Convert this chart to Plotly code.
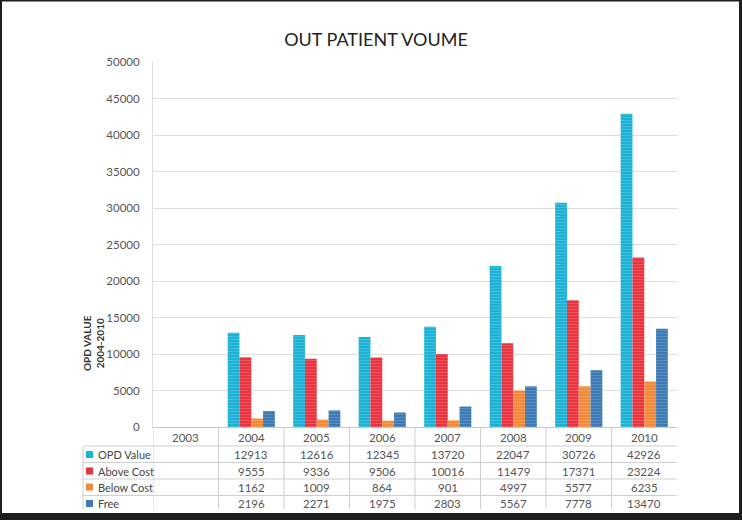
import plotly.graph_objects as go

years = ["2003", "2004", "2005", "2006", "2007", "2008", "2009", "2010"]
series_names = ["OPD Value", "Above Cost", "Below Cost", "Free"]
opd_value = [None, 12913, 12616, 12345, 13720, 22047, 30726, 42926]
above_cost = [None, 9555, 9336, 9506, 10016, 11479, 17371, 23224]
below_cost = [None, 1162, 1009, 864, 901, 4997, 5577, 6235]
free = [None, 2196, 2271, 1975, 2803, 5567, 7778, 13470]
colors = ["#1bb2d6", "#e8343f", "#f28a3a", "#3c79b5"]
y_ticks = list(range(0, 50001, 5000))

W, H = 742, 520
L, R, T, B = 153, 65, 62, 93
PW, PH = W - L - R, H - T - B


def px(X):
    return (X - L) / PW


def py(Y):
    return (H - B - Y) / PH


series = [opd_value, above_cost, below_cost, free]
fig = go.Figure()
for name, vals, col in zip(series_names, series, colors):
    fig.add_trace(go.Bar(
        x=years, y=vals, name=name, showlegend=False,
        marker=dict(color=col, line=dict(width=0),
                    pattern=dict(shape="-", fgcolor="white", fgopacity=0.18,
                                 size=3, solidity=0.3)),
    ))

shapes = []
ann = []
line_col = "#cfcfcf"
# table horizontal lines
for Y in [446, 462.5, 479, 495.5]:
    shapes.append(dict(type="line", xref="paper", yref="paper",
                       x0=px(83), x1=1, y0=py(Y), y1=py(Y),
                       line=dict(color=line_col, width=1)))
# left border of legend column
shapes.append(dict(type="line", xref="paper", yref="paper",
                   x0=px(83), x1=px(83), y0=py(446), y1=py(509),
                   line=dict(color=line_col, width=1)))
# vertical separators between categories
for i in range(len(years)):
    shapes.append(dict(type="line", xref="x", yref="paper",
                       x0=i - 0.5, x1=i - 0.5, y0=0, y1=py(509),
                       line=dict(color=line_col, width=1)))

# header row (years)
for i, yr in enumerate(years):
    ann.append(dict(x=i, y=py(437), xref="x", yref="paper", text=yr,
                    xanchor="center", yanchor="middle",
                    showarrow=False, font=dict(size=11.5, color="#555")))
row_centers = [454.5, 471, 487, 503.5]
for r, (name, vals, col) in enumerate(zip(series_names, series, colors)):
    Yc = row_centers[r]
    shapes.append(dict(type="rect", xref="paper", yref="paper",
                       x0=px(86), x1=px(93), y0=py(Yc + 3.5), y1=py(Yc - 3.5),
                       fillcolor=col, line=dict(width=0)))
    ann.append(dict(x=px(96), y=py(Yc), xref="paper", yref="paper",
                    text=name, showarrow=False, xanchor="left", yanchor="middle",
                    font=dict(size=11, color="#444")))
    for i, v in enumerate(vals):
        if v is None:
            continue
        ann.append(dict(x=i, y=py(Yc), xref="x", yref="paper",
                        text=str(v), showarrow=False,
                        xanchor="center", yanchor="middle",
                        font=dict(size=11.5, color="#555")))

# y-axis title
ann.append(dict(x=px(93), y=py(343), xref="paper", yref="paper",
                text="<b>OPD VALUE<br>2004-2010</b>", textangle=-90,
                xanchor="center", yanchor="middle",
                showarrow=False, font=dict(size=10, color="#333")))

# outer dark frame
frame = "#1e1e1e"
shapes += [
    dict(type="rect", xref="paper", yref="paper", x0=px(0), x1=px(2),
         y0=py(H), y1=py(0), fillcolor=frame, line=dict(width=0)),
    dict(type="rect", xref="paper", yref="paper", x0=px(739), x1=px(W),
         y0=py(H), y1=py(0), fillcolor=frame, line=dict(width=0)),
    dict(type="rect", xref="paper", yref="paper", x0=px(0), x1=px(W),
         y0=py(1.5), y1=py(0), fillcolor=frame, line=dict(width=0)),
    dict(type="rect", xref="paper", yref="paper", x0=px(0), x1=px(W),
         y0=py(H), y1=py(513), fillcolor=frame, line=dict(width=0)),
]

fig.update_layout(
    width=W, height=H,
    margin=dict(l=L, r=R, t=T, b=B),
    paper_bgcolor="white", plot_bgcolor="white",
    font=dict(family="Lato, Open Sans, sans-serif"),
    title=dict(text="OUT PATIENT VOUME", x=376 / W, xanchor="center",
               y=1 - 40 / H, yanchor="middle",
               font=dict(size=18, color="#222", family="Lato, Open Sans, sans-serif")),
    barmode="group", bargap=0.28, bargroupgap=0,
    xaxis=dict(type="category", showticklabels=False, showgrid=False,
               showline=True, linecolor="#c8c8c8", ticks="", range=[-0.5, 7.5]),
    yaxis=dict(range=[0, 50000], tickvals=y_ticks, tickformat="d", showgrid=True,
               gridcolor="#dedede", gridwidth=1, zeroline=False,
               showline=True, linecolor="#dedede",
               tickfont=dict(size=11.5, color="#555"), ticklabelstandoff=10),
    shapes=shapes, annotations=ann,
)

fig.write_html("out.html", config={"displayModeBar": False},
               post_script="document.body.style.margin='0';")
